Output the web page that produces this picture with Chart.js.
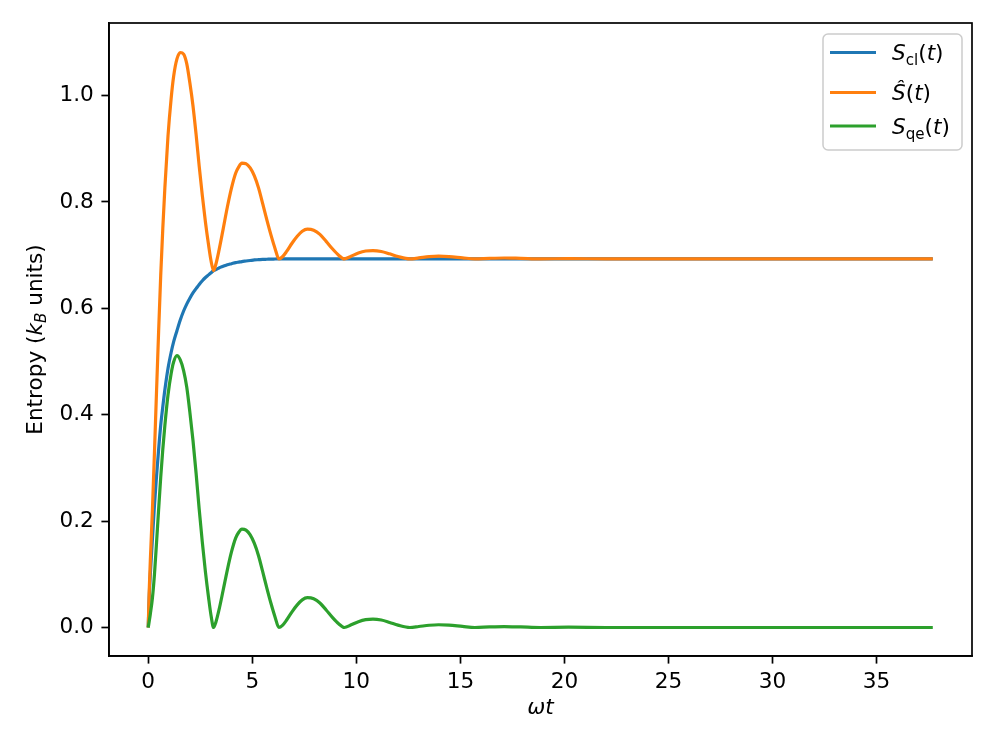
<!DOCTYPE html>
<html>
<head>
<meta charset="utf-8">
<script src="https://cdn.jsdelivr.net/npm/chart.js@4.4.1/dist/chart.umd.min.js"></script>
<style>
html,body{margin:0;padding:0;background:#ffffff;}
canvas{display:block;}
</style>
</head>
<body>
<canvas id="c" width="996" height="747"></canvas>
<script>
// ---- data ----
const omegaT = [0, 0.05, 0.1, 0.2, 0.3, 0.4, 0.5, 0.6, 0.7, 0.8, 0.95, 1.1, 1.22, 1.38, 1.54, 1.7, 1.85, 2.0, 2.15, 2.3, 2.45, 2.6, 2.75, 2.9, 3.02, 3.14, 3.25, 3.4, 3.6, 3.8, 4.0, 4.2, 4.35, 4.5, 4.7, 4.9, 5.1, 5.3, 5.5, 5.7, 5.9, 6.1, 6.28, 6.45, 6.65, 6.9, 7.15, 7.4, 7.65, 7.95, 8.25, 8.55, 8.85, 9.15, 9.42, 9.75, 10.1, 10.45, 10.8, 11.2, 11.6, 12.0, 12.57, 13.0, 13.5, 13.95, 14.45, 15.1, 15.7, 16.4, 17.1, 17.9, 18.85, 20.2, 22.0, 25.0, 30.0, 35.0, 37.7];

const sCl = [0, 0.06, 0.10, 0.165, 0.23, 0.285, 0.335, 0.38, 0.415, 0.447, 0.487, 0.517, 0.537, 0.558, 0.578, 0.595, 0.608, 0.619, 0.629, 0.637, 0.645, 0.652, 0.658, 0.663, 0.667, 0.671, 0.673, 0.676, 0.679, 0.682, 0.684, 0.686, 0.687, 0.688, 0.689, 0.690, 0.691, 0.6915, 0.692, 0.6923, 0.6926, 0.6928, 0.693, 0.693, 0.693, 0.693, 0.693, 0.693, 0.693, 0.693, 0.693, 0.693, 0.693, 0.693, 0.693, 0.693, 0.693, 0.693, 0.693, 0.693, 0.693, 0.693, 0.693, 0.693, 0.693, 0.693, 0.693, 0.693, 0.693, 0.693, 0.693, 0.693, 0.693, 0.693, 0.693, 0.693, 0.693, 0.693, 0.693];

const sHat = [0, 0.072, 0.125, 0.22, 0.33, 0.445, 0.557, 0.662, 0.75, 0.827, 0.924, 0.994, 1.036, 1.069, 1.081, 1.078, 1.06, 1.024, 0.981, 0.927, 0.867, 0.812, 0.762, 0.719, 0.689, 0.671, 0.683, 0.709, 0.749, 0.79, 0.826, 0.854, 0.866, 0.873, 0.872, 0.864, 0.849, 0.8265, 0.797, 0.7663, 0.7376, 0.7118, 0.693, 0.697, 0.707, 0.722, 0.735, 0.745, 0.749, 0.747, 0.739, 0.726, 0.712, 0.700, 0.693, 0.698, 0.704, 0.7078, 0.7087, 0.707, 0.7025, 0.6975, 0.693, 0.6948, 0.6972, 0.6982, 0.6974, 0.695, 0.693, 0.6941, 0.6947, 0.694, 0.693, 0.6935, 0.693, 0.693, 0.693, 0.693, 0.693];

const sQe = [0, 0.012, 0.025, 0.055, 0.10, 0.16, 0.222, 0.282, 0.335, 0.38, 0.437, 0.477, 0.499, 0.511, 0.503, 0.483, 0.452, 0.405, 0.352, 0.29, 0.222, 0.16, 0.104, 0.056, 0.022, 0, 0.01, 0.033, 0.07, 0.108, 0.142, 0.168, 0.179, 0.185, 0.183, 0.174, 0.158, 0.135, 0.105, 0.074, 0.045, 0.019, 0, 0.004, 0.014, 0.029, 0.042, 0.052, 0.056, 0.054, 0.046, 0.033, 0.019, 0.007, 0, 0.005, 0.011, 0.0148, 0.0157, 0.014, 0.0095, 0.0045, 0, 0.0018, 0.0042, 0.0052, 0.0044, 0.002, 0, 0.0011, 0.0017, 0.001, 0, 0.0005, 0, 0, 0, 0, 0];

const xTicks = [0, 5, 10, 15, 20, 25, 30, 35];
const yTicks = [0.0, 0.2, 0.4, 0.6, 0.8, 1.0];
const seriesLabels = ['S_cl(t)', 'Ŝ(t)', 'S_qe(t)'];
const xTitle = 'ωt';
const yTitleParts = ['Entropy (', 'k', 'B', ' units)'];

// ---- styling ----
const FONT = '"DejaVu Sans"';
const FS = 21.6;
const COLORS = ['#1f77b4', '#ff7f0e', '#2ca02c'];
const toPts = ys => omegaT.map((x, i) => ({x: x, y: ys[i]}));

const framePlugin = {
  id: 'frame',
  afterDraw(chart) {
    const {ctx, chartArea: a} = chart;
    ctx.save();
    ctx.strokeStyle = '#000';
    ctx.lineWidth = 1.7;
    ctx.strokeRect(a.left, a.top, a.right - a.left, a.bottom - a.top);
    ctx.restore();
  }
};

const yTitlePlugin = {
  id: 'yTitle',
  afterDraw(chart) {
    const ctx = chart.ctx;
    const a = chart.chartArea;
    ctx.save();
    ctx.translate(42, (a.top + a.bottom) / 2);
    ctx.rotate(-Math.PI / 2);
    ctx.fillStyle = '#000';
    ctx.textBaseline = 'alphabetic';
    const fN = `${FS}px ${FONT}`;
    const fI = `italic ${FS}px ${FONT}`;
    const fS = `italic ${FS * 0.7}px ${FONT}`;
    const parts = [
      [yTitleParts[0], fN, 0],
      [yTitleParts[1], fI, 0],
      [yTitleParts[2], fS, FS * 0.2],
      [yTitleParts[3], fN, 0]
    ];
    let total = 0;
    parts.forEach(p => { ctx.font = p[1]; total += ctx.measureText(p[0]).width; });
    let x = -total / 2;
    parts.forEach(p => { ctx.font = p[1]; ctx.fillText(p[0], x, p[2]); x += ctx.measureText(p[0]).width; });
    ctx.restore();
  }
};

const legendPlugin = {
  id: 'mplLegend',
  afterDraw(chart) {
    const ctx = chart.ctx;
    ctx.save();
    const bx = 823, by = 34, bw = 139, bh = 116;
    ctx.beginPath();
    ctx.roundRect(bx, by, bw, bh, 5);
    ctx.fillStyle = 'rgba(255,255,255,0.8)';
    ctx.fill();
    ctx.strokeStyle = '#cccccc';
    ctx.lineWidth = 1.5;
    ctx.stroke();
    const rowsY = [52.5, 92.5, 126];
    const fN = `${FS}px ${FONT}`;
    const fI = `italic ${FS}px ${FONT}`;
    const fSub = `${FS * 0.7}px ${FONT}`;
    chart.data.datasets.forEach((ds, i) => {
      const y = rowsY[i];
      ctx.strokeStyle = ds.borderColor;
      ctx.lineWidth = 3.2;
      ctx.beginPath();
      ctx.moveTo(830, y);
      ctx.lineTo(876, y);
      ctx.stroke();
      const lab = seriesLabels[i];
      const m = lab.match(/^(.)(?:_(\w+))?\((.)\)$/);
      const parts = [[m[1], fI, 0]];
      if (m[2]) parts.push([m[2], fSub, FS * 0.22]);
      parts.push(['(', fN, 0], [m[3], fI, 0], [')', fN, 0]);
      let x = 892;
      const base = y + 7.8;
      ctx.fillStyle = '#000';
      ctx.textBaseline = 'alphabetic';
      parts.forEach(p => { ctx.font = p[1]; ctx.fillText(p[0], x, base + p[2]); x += ctx.measureText(p[0]).width; });
    });
    ctx.restore();
  }
};

const tickFont = {family: 'DejaVu Sans', size: FS};

new Chart(document.getElementById('c').getContext('2d'), {
  type: 'line',
  data: {
    datasets: [
      {label: seriesLabels[0], data: toPts(sCl), borderColor: COLORS[0], order: 3},
      {label: seriesLabels[1], data: toPts(sHat), borderColor: COLORS[1], order: 2},
      {label: seriesLabels[2], data: toPts(sQe), borderColor: COLORS[2], order: 1}
    ]
  },
  options: {
    responsive: false,
    animation: false,
    devicePixelRatio: 1,
    layout: {padding: {left: 0, top: 23, right: 24, bottom: 0}},
    elements: {
      point: {radius: 0},
      line: {borderWidth: 3.2, cubicInterpolationMode: 'monotone', fill: false}
    },
    plugins: {legend: {display: false}, tooltip: {enabled: false}},
    scales: {
      x: {
        type: 'linear',
        min: -1.885,
        max: 39.584,
        afterBuildTicks: s => { s.ticks = xTicks.map(v => ({value: v})); },
        afterFit: s => { s.height = 91; },
        grid: {display: true, drawOnChartArea: false, drawTicks: true, tickLength: 7.6, tickWidth: 1.7, tickColor: '#000'},
        border: {display: true, color: '#000', width: 1.7},
        ticks: {color: '#000', font: tickFont, padding: 6, maxRotation: 0, autoSkip: false, callback: v => String(v)},
        title: {display: true, text: xTitle, color: '#000', font: {family: 'DejaVu Sans', size: FS, style: 'italic'}, padding: {top: 0, bottom: 26}}
      },
      y: {
        type: 'linear',
        min: -0.0536,
        max: 1.1365,
        afterBuildTicks: s => { s.ticks = yTicks.map(v => ({value: v})); },
        afterFit: s => { s.width = 109; },
        grid: {display: true, drawOnChartArea: false, drawTicks: true, tickLength: 7.6, tickWidth: 1.7, tickColor: '#000'},
        border: {display: true, color: '#000', width: 1.7},
        ticks: {color: '#000', font: tickFont, padding: 7.6, autoSkip: false, callback: v => v.toFixed(1)}
      }
    }
  },
  plugins: [framePlugin, yTitlePlugin, legendPlugin]
});
</script>
</body>
</html>
